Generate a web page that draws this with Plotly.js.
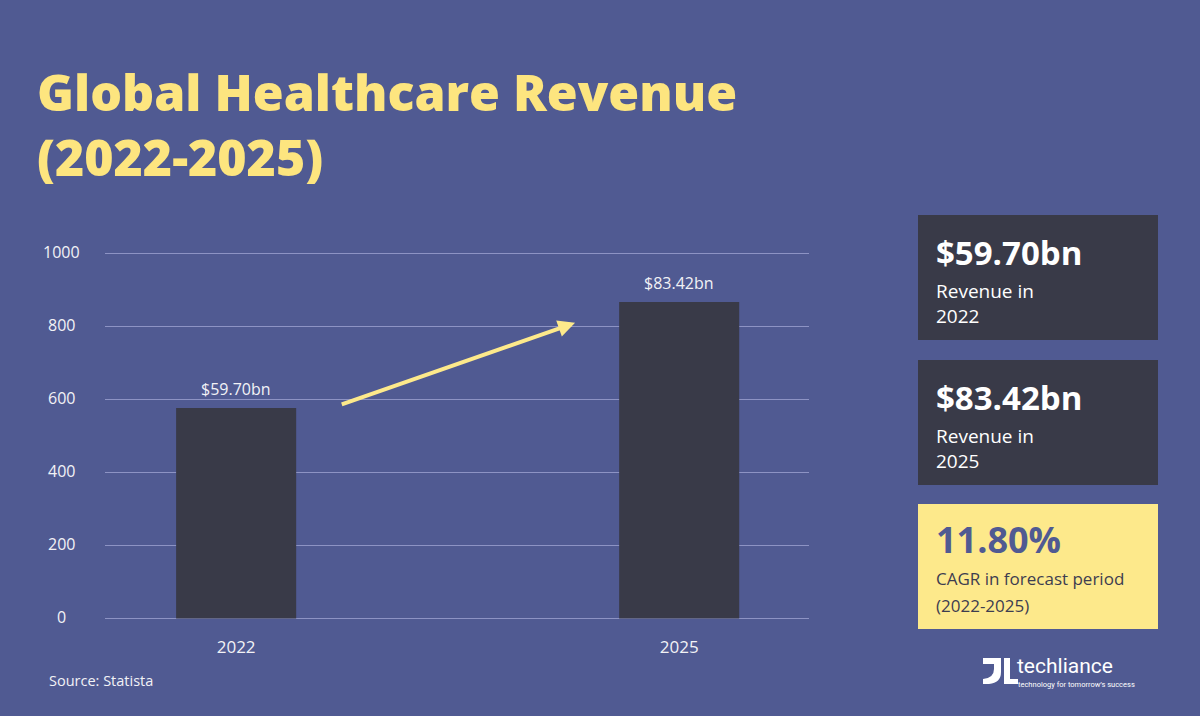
<!DOCTYPE html>
<html>
<head>
<meta charset="utf-8">
<script src="https://cdn.plot.ly/plotly-3.0.1.min.js"></script>
<style>
  html, body { margin: 0; padding: 0; background: #505a92; }
  #chart { width: 1200px; height: 716px; }
</style>
</head>
<body>
<div id="chart"></div>
<script>
// ---- data ----
const years = ['2022', '2025'];
const revenueValues = [577, 867];
const valueLabels = ['$59.70bn', '$83.42bn'];
const yTickValues = [0, 200, 400, 600, 800, 1000];
const yTickLabels = ['0', '200', '400', '600', '800', '1000'];
const statValues = ['$59.70bn', '$83.42bn', '11.80%'];
const statCaptions = [['Revenue in', '2022'], ['Revenue in', '2025'], ['CAGR in forecast period', '(2022-2025)']];

// ---- layout helpers (pixel -> plot paper coords) ----
const W = 1200, H = 716;
const M = { l: 105, r: 391, t: 243, b: 88 };
const PW = W - M.l - M.r, PH = H - M.t - M.b;
const px = x => (x - M.l) / PW;
const py = y => (H - M.b - y) / PH;

const BG = '#505a92';
const DARK = '#393a48';
const YELLOW = '#fde98b';
const TITLE_YELLOW = '#fde57f';
const FONT = 'Open Sans, Noto Sans, sans-serif';

const trace = {
  type: 'bar',
  x: years,
  y: revenueValues,
  width: 0.271,
  marker: { color: DARK },
  hoverinfo: 'none'
};

const annotations = [];
// y tick labels (centered)
yTickValues.forEach((v, i) => {
  annotations.push({
    xref: 'paper', yref: 'y', x: px(61), y: v, xanchor: 'center', yanchor: 'middle',
    yshift: 2, text: yTickLabels[i], showarrow: false,
    font: { family: FONT, size: 16, color: '#f2f2f6' }
  });
});
// value labels above bars
years.forEach((yr, i) => {
  annotations.push({
    xref: 'x', yref: 'y', x: i, y: revenueValues[i], xanchor: 'center', yanchor: 'bottom',
    yshift: 6, text: valueLabels[i], showarrow: false,
    font: { family: FONT, size: 16, color: '#f2f2f6' }
  });
});
// arrow
annotations.push({
  xref: 'x', yref: 'y', axref: 'x', ayref: 'y',
  x: 0.765, y: 810, ax: 0.235, ay: 585,
  text: '', showarrow: true, arrowhead: 2, arrowsize: 0.85, arrowwidth: 4,
  arrowcolor: YELLOW, standoff: 0, startstandoff: 0
});
// source
annotations.push({
  xref: 'paper', yref: 'paper', x: px(47), y: py(680), xanchor: 'left', yanchor: 'middle',
  text: 'Source: Statista', showarrow: false,
  font: { family: FONT, size: 14.5, color: '#f2f2f6' }
});

// stat boxes
const boxTops = [215, 360, 504];
const boxFills = [DARK, DARK, YELLOW];
const bigColors = ['#ffffff', '#ffffff', BG];
const smallColors = ['#ffffff', '#ffffff', '#3d3d50'];
const bigSizes = [33, 33, 36];
const capSizes = [19, 19, 17];
const shapes = [];
boxTops.forEach((top, i) => {
  shapes.push({
    type: 'rect', xref: 'paper', yref: 'paper', layer: 'below',
    x0: px(918), x1: px(1158), y0: py(top), y1: py(top + 125),
    fillcolor: boxFills[i], line: { width: 0 }
  });
  annotations.push({
    xref: 'paper', yref: 'paper', x: px(935), y: py(top + 61), xanchor: 'left', yanchor: 'bottom',
    text: '<b>' + statValues[i] + '</b>', showarrow: false, borderpad: 0,
    font: { family: FONT, size: bigSizes[i], color: bigColors[i], weight: 800 }
  });
  annotations.push({
    xref: 'paper', yref: 'paper', x: px(935), y: py(top + 62), xanchor: 'left', yanchor: 'top',
    text: statCaptions[i][0], showarrow: false, borderpad: 0,
    font: { family: FONT, size: capSizes[i], color: smallColors[i] }
  });
  annotations.push({
    xref: 'paper', yref: 'paper', x: px(935), y: py(top + 101), xanchor: 'left', yanchor: 'middle',
    text: statCaptions[i][1], showarrow: false, borderpad: 0,
    font: { family: FONT, size: capSizes[i], color: smallColors[i] }
  });
});

// logo
annotations.push({
  xref: 'paper', yref: 'paper', x: px(1016), y: py(679), xanchor: 'left', yanchor: 'bottom',
  text: 'techliance', showarrow: false, borderpad: 0,
  font: { family: 'Roboto, sans-serif', size: 21, color: '#ffffff' }
});
annotations.push({
  xref: 'paper', yref: 'paper', x: px(1017), y: py(679), xanchor: 'left', yanchor: 'top',
  text: 'technology for tomorrow\u2019s success', showarrow: false, borderpad: 0,
  font: { family: 'Roboto, sans-serif', size: 7.5, color: '#ffffff' }
});
const P = (x, y) => px(x).toFixed(5) + ',' + py(y).toFixed(5);
shapes.push({
  type: 'path', xref: 'paper', yref: 'paper', fillcolor: '#ffffff', line: { width: 0 },
  path: 'M' + P(983, 658) + ' L' + P(1001, 658) + ' L' + P(1001, 672) +
        ' Q' + P(1001, 683) + ' ' + P(989, 684) + ' L' + P(983, 684) + ' L' + P(983, 679) +
        ' Q' + P(994, 678) + ' ' + P(994, 669) + ' L' + P(994, 664) + ' L' + P(983, 664) + ' Z'
});
shapes.push({
  type: 'path', xref: 'paper', yref: 'paper', fillcolor: '#ffffff', line: { width: 0 },
  path: 'M' + P(1004, 658) + ' L' + P(1010, 658) + ' L' + P(1010, 679) + ' L' + P(1018, 679) +
        ' L' + P(1018, 684) + ' L' + P(1004, 684) + ' Z'
});

const layout = {
  width: W, height: H,
  paper_bgcolor: BG, plot_bgcolor: BG,
  margin: M,
  showlegend: false,
  title: {
    text: 'Global Healthcare Revenue<br>(2022-2025)',
    xref: 'container', yref: 'container', x: 37 / W, y: 1 - 111 / H,
    xanchor: 'left', yanchor: 'top',
    font: { family: FONT, size: 50, color: TITLE_YELLOW, weight: 800 }
  },
  xaxis: {
    type: 'category', range: [-0.296, 1.293], showgrid: false, zeroline: false,
    showline: false, ticks: '', ticklabelstandoff: 7,
    tickfont: { family: FONT, size: 17, color: '#f2f2f6' }
  },
  yaxis: {
    range: [-26.0, 1028.8], tickvals: yTickValues, showticklabels: false,
    showgrid: true, gridcolor: '#8d93c4', gridwidth: 1, zeroline: false, showline: false
  },
  shapes: shapes,
  annotations: annotations
};

Plotly.newPlot('chart', [trace], layout, { displayModeBar: false, staticPlot: true });
</script>
</body>
</html>
